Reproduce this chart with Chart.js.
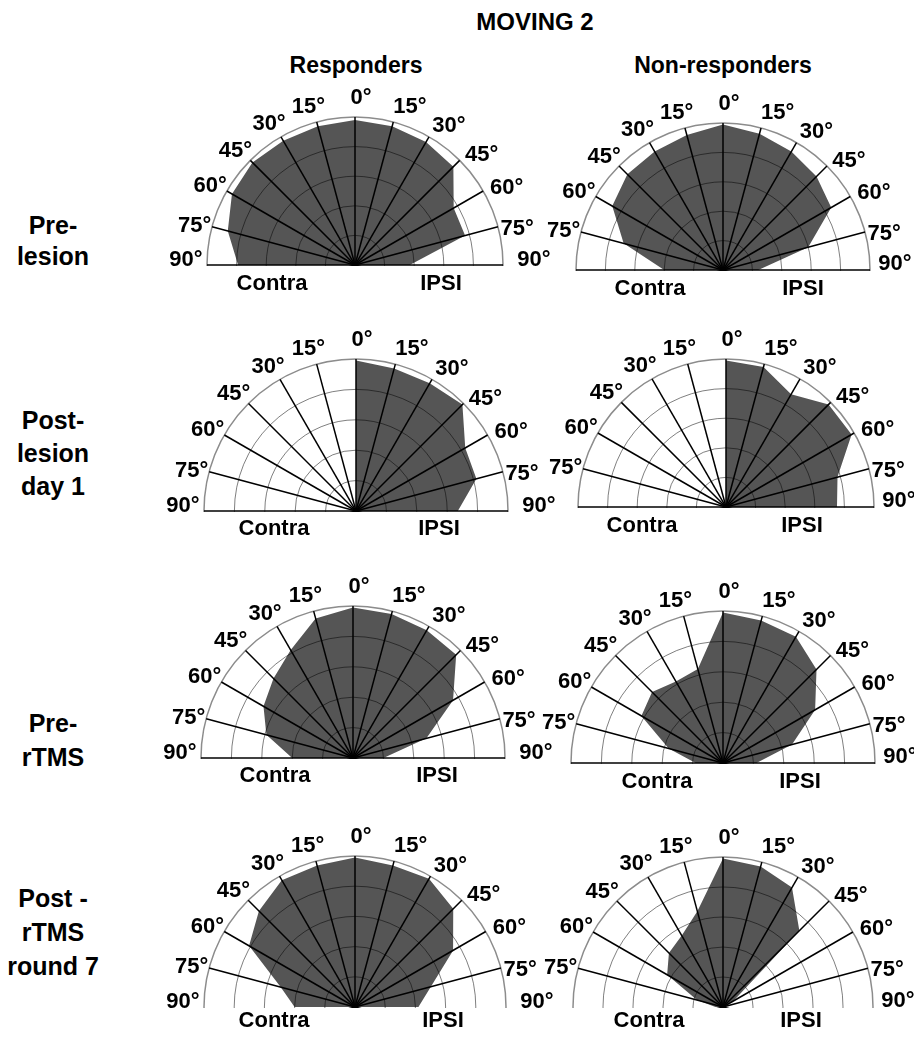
<!DOCTYPE html>
<html>
<head>
<meta charset="utf-8">
<script src="https://cdn.jsdelivr.net/npm/chart.js@4.4.1/dist/chart.umd.min.js"></script>
<style>
html,body{margin:0;padding:0;background:#fff;}
body{width:914px;height:1037px;position:relative;overflow:hidden;font-family:"Liberation Sans",Arial,sans-serif;font-weight:bold;color:#000;}
.t{position:absolute;white-space:nowrap;transform:translate(-50%,-50%);line-height:1;}
.wrap{position:absolute;overflow:hidden;}
.box{position:absolute;left:0;top:0;}
.row{font-size:25px;}
</style>
</head>
<body>
<div class="t" style="left:535px;top:22px;font-size:24px">MOVING 2</div>
<div class="t" style="left:356px;top:65px;font-size:23px">Responders</div>
<div class="t" style="left:723px;top:65px;font-size:23px">Non-responders</div>

<div class="t row" style="left:53px;top:225px">Pre-</div>
<div class="t row" style="left:53px;top:256px">lesion</div>

<div class="t row" style="left:53px;top:420px">Post-</div>
<div class="t row" style="left:53px;top:453px">lesion</div>
<div class="t row" style="left:53px;top:486px">day 1</div>

<div class="t row" style="left:53px;top:723px">Pre-</div>
<div class="t row" style="left:53px;top:757px">rTMS</div>

<div class="t row" style="left:53px;top:898px">Post -</div>
<div class="t row" style="left:53px;top:932px">rTMS</div>
<div class="t row" style="left:53px;top:966px">round 7</div>

<div id="panels"></div>

<script>
// Direction labels, read left (contralateral 90°) to right (ipsilateral 90°)
const directionLabels = ['90°','75°','60°','45°','30°','15°','0°','15°','30°','45°','60°','75°','90°'];
const ringTicks = [0, 20, 40, 60, 80, 100];

// Values (% of max) in the order contra 90..15, 0, ipsi 15..90
const respondersPreLesion      = [79, 89, 96, 98, 97, 97, 98, 97, 96, 94, 77, 77, 37];
const nonRespondersPreLesion   = [40, 70, 87, 92, 93, 95, 99, 96, 93, 90, 85, 60, 24];
const respondersPostLesion     = [0, 0, 0, 0, 0, 0, 99, 97, 97, 99, 83, 82, 67];
const nonRespondersPostLesion  = [0, 0, 0, 0, 0, 0, 99, 98, 88, 98, 98, 78, 75];
const respondersPreRTMS        = [40, 59, 68, 74, 82, 95, 99, 98, 97, 96, 76, 50, 20];
const nonRespondersPreRTMS     = [18, 37, 62, 66, 62, 64, 99, 97, 96, 87, 70, 47, 22];
const respondersPostRTMS       = [40, 51, 81, 90, 97, 97, 99, 97, 98, 92, 75, 52, 42];
const nonRespondersPostRTMS    = [5, 18, 43, 51, 55, 66, 99, 97, 92, 72, 8, 0, 0];

// Layout of the eight half-polar panels
const panels = [
  {values: respondersPreLesion,     col: 0, cx: 355, cy: 265,  r: 148, contra: [272, 283],  ipsi: [441, 283]},
  {values: nonRespondersPreLesion,  col: 1, cx: 723, cy: 270,  r: 147, contra: [650, 288],  ipsi: [803, 288]},
  {values: respondersPostLesion,    col: 0, cx: 356, cy: 511,  r: 152, contra: [274, 528],  ipsi: [439, 528]},
  {values: nonRespondersPostLesion, col: 1, cx: 726, cy: 507,  r: 148, contra: [642, 525],  ipsi: [802, 525]},
  {values: respondersPreRTMS,       col: 0, cx: 353, cy: 758,  r: 152, contra: [275, 775],  ipsi: [437, 775]},
  {values: nonRespondersPreRTMS,    col: 1, cx: 723, cy: 763,  r: 152, contra: [657, 781],  ipsi: [800, 781]},
  {values: respondersPostRTMS,      col: 0, cx: 355, cy: 1007, r: 151, contra: [274, 1020], ipsi: [443, 1020], noBase: true},
  {values: nonRespondersPostRTMS,   col: 1, cx: 723, cy: 1007, r: 150, contra: [649, 1020], ipsi: [801, 1020], noBase: true}
];

const FILL = '#555555';
const PAD_X = 60, PAD_Y = 45;

// keep only the upper half of the polar grid
const halfPlane = {
  id: 'halfPlane',
  beforeDraw(chart) {
    const s = chart.scales.r, ctx = chart.ctx, r = s.drawingArea;
    ctx.save();
    ctx.beginPath();
    ctx.rect(0, 0, chart.width, s.yCenter + 1);
    ctx.rect(0, 0, s.xCenter - r - 2, chart.height);
    ctx.rect(s.xCenter + r + 2, 0, chart.width - (s.xCenter + r + 2), chart.height);
    ctx.clip();
  },
  afterDraw(chart) { chart.ctx.restore(); }
};

// degree labels centred just outside each spoke end
const degreeLabels = {
  id: 'degreeLabels',
  afterDraw(chart, args, opts) {
    const s = chart.scales.r, ctx = chart.ctx, R = s.drawingArea;
    ctx.save();
    ctx.font = 'bold 22px "Liberation Sans", Arial, sans-serif';
    ctx.fillStyle = '#000';
    ctx.textAlign = 'center';
    ctx.textBaseline = 'middle';
    chart.data.labels.forEach((lab, i) => {
      const place = opts.place(i);
      if (!lab || !place) return;
      const pt = s.getPointPosition(i, R + place.gap);
      const tx = -Math.sin(pt.angle), ty = Math.cos(pt.angle);
      ctx.fillText(lab, pt.x + tx * place.tang, pt.y + ty * place.tang);
    });
    ctx.restore();
  }
};

const host = document.getElementById('panels');

panels.forEach((p) => {
  // 24 spokes around the full circle, 15° apart, clockwise from the top (0°)
  const labels = [], data = [];
  for (let i = 0; i < 24; i++) {
    if (i <= 6) { labels.push(directionLabels[6 + i]); data.push(p.values[6 + i]); }
    else if (i >= 18) { labels.push(directionLabels[i - 18]); data.push(p.values[i - 18]); }
    else { labels.push(''); data.push(0); }
  }

  const W = 2 * p.r + 2 * PAD_X, H = 2 * p.r + 2 * PAD_Y;
  const wrap = document.createElement('div');
  wrap.className = 'wrap';
  wrap.style.left = (p.cx - PAD_X - p.r) + 'px';
  wrap.style.top = (p.cy - PAD_Y - p.r) + 'px';
  wrap.style.width = W + 'px';
  wrap.style.height = (PAD_Y + p.r + 16) + 'px';
  const box = document.createElement('div');
  box.className = 'box';
  box.style.width = W + 'px';
  box.style.height = H + 'px';
  const canvas = document.createElement('canvas');
  box.appendChild(canvas);
  wrap.appendChild(box);
  host.appendChild(wrap);

  [['Contra', p.contra], ['IPSI', p.ipsi]].forEach(([txt, pos]) => {
    const d = document.createElement('div');
    d.className = 't';
    d.style.left = pos[0] + 'px';
    d.style.top = pos[1] + 'px';
    d.style.fontSize = '22px';
    d.textContent = txt;
    host.appendChild(d);
  });

  const place = (i) => {
    if (i === 0) return {gap: 19, tang: 6};
    if (i >= 1 && i <= 3) return {gap: 19, tang: 12};
    if (i === 4) return {gap: 22, tang: 9};
    if (i === 5) return {gap: 18, tang: 7};
    if (i === 6) return p.col === 0 ? {gap: 31, tang: -5} : {gap: 25, tang: -6};
    if (i === 18) return p.col === 0 ? {gap: 21, tang: 5} : null;
    if (i >= 19) return {gap: 17, tang: -4};
    return null;
  };

  new Chart(canvas, {
    type: 'radar',
    data: {
      labels: labels,
      datasets: [{
        data: data,
        fill: true,
        backgroundColor: FILL,
        borderWidth: 0,
        borderColor: 'rgba(0,0,0,0)',
        pointRadius: 0,
        pointHoverRadius: 0,
        tension: 0
      }]
    },
    options: {
      responsive: true,
      maintainAspectRatio: false,
      animation: false,
      events: [],
      layout: {padding: {left: PAD_X, right: PAD_X, top: PAD_Y, bottom: PAD_Y}},
      plugins: {
        legend: {display: false},
        tooltip: {enabled: false},
        degreeLabels: {place: place}
      },
      scales: {
        r: {
          min: ringTicks[0],
          max: ringTicks[ringTicks.length - 1],
          afterBuildTicks: (s) => { s.ticks = ringTicks.map(v => ({value: v})); },
          ticks: {display: false},
          pointLabels: {display: false},
          grid: {
            z: 1,
            circular: true,
            color: (c) => c.index === ringTicks.length - 1 ? '#8c8c8c' : 'rgba(0,0,0,0.5)',
            lineWidth: (c) => c.index === ringTicks.length - 1 ? 1.5 : 1
          },
          angleLines: {
            display: true,
            color: (c) => (p.noBase && (c.index === 6 || c.index === 18)) ? 'rgba(0,0,0,0)' : '#000',
            lineWidth: 1.5
          }
        }
      }
    },
    plugins: [halfPlane, degreeLabels]
  });
});
</script>
</body>
</html>
